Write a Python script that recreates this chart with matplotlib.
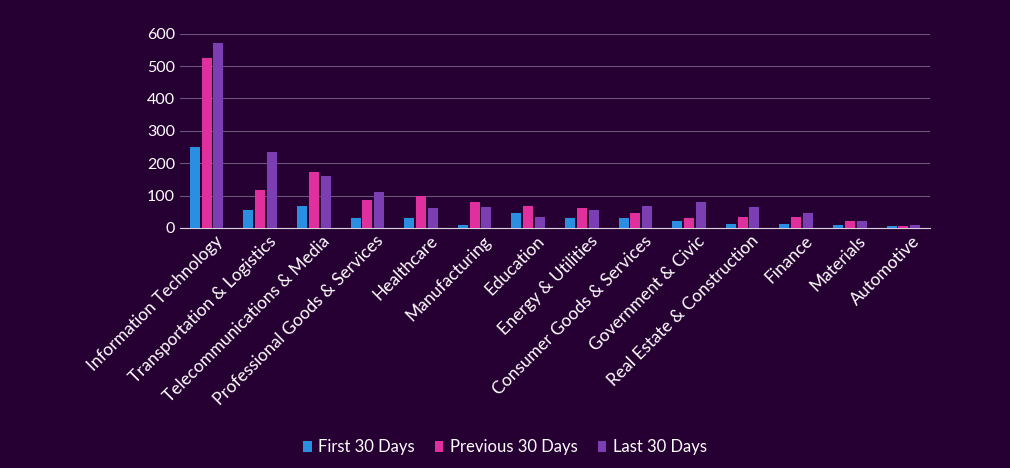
import matplotlib.pyplot as plt
import numpy as np

categories = ["Information Technology", "Transportation & Logistics", "Telecommunications & Media",
              "Professional Goods & Services", "Healthcare", "Manufacturing", "Education",
              "Energy & Utilities", "Consumer Goods & Services", "Government & Civic",
              "Real Estate & Construction", "Finance", "Materials", "Automotive"]
first_30 = [250, 55, 68, 30, 30, 8, 47, 30, 30, 22, 13, 13, 8, 5]
previous_30 = [525, 118, 172, 85, 100, 80, 68, 63, 47, 30, 33, 33, 22, 5]
last_30 = [570, 235, 160, 110, 60, 65, 33, 55, 68, 80, 65, 47, 22, 8]

bg = "#270033"
plt.rcParams['font.family'] = ['Lato', 'DejaVu Sans']
fig = plt.figure(figsize=(10.1, 4.68), dpi=100, facecolor=bg)
ax = fig.add_axes([0.178, 0.513, 0.743, 0.415], facecolor=bg)

x = np.arange(len(categories))
w = 0.22
ax.bar(x - w, first_30, w * 0.85, color="#2a8fe0", label="First 30 Days", zorder=3)
ax.bar(x, previous_30, w * 0.85, color="#e0309e", label="Previous 30 Days", zorder=3)
ax.bar(x + w, last_30, w * 0.85, color="#7b3fb3", label="Last 30 Days", zorder=3)

ax.set_ylim(0, 600)
ax.set_xlim(-0.5, len(categories) - 0.5)
ax.set_yticks(range(0, 601, 100))
ax.grid(axis='y', color="#6a5578", linewidth=0.8, zorder=0)
for s in ["top", "right", "left"]:
    ax.spines[s].set_visible(False)
ax.spines["bottom"].set_color("#d8d0dc")
ax.tick_params(colors="white", labelsize=11.5, length=0)
ax.set_xticks(x + 0.15)
ax.set_xticklabels(categories, rotation=45, ha="right", rotation_mode="anchor", fontsize=12.5)

fig.legend(loc="lower center", ncol=3, frameon=False, labelcolor="white", fontsize=12,
           handlelength=0.5, handletextpad=0.4, columnspacing=1.2, bbox_to_anchor=(0.5, -0.005))
fig.savefig("out.png", dpi=100, facecolor=bg)
